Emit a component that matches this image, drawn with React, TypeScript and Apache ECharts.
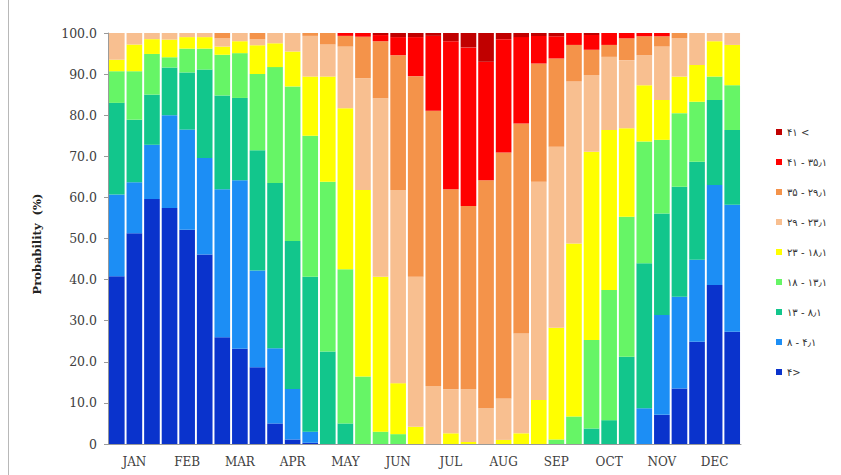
import React, { useEffect, useRef } from "react";
import * as echarts from "echarts";

const months = ["JAN", "FEB", "MAR", "APR", "MAY", "JUN", "JUL", "AUG", "SEP", "OCT", "NOV", "DEC"];
const dekads = ["1", "2", "3"];
const categories = months.flatMap((m) => dekads.map((d) => `${m}-${d}`));

const yTicks = [0, 10, 20, 30, 40, 50, 60, 70, 80, 90, 100];

const classNames = [
  "۴>",
  "۸ - ۴٫۱",
  "۱۳ - ۸٫۱",
  "۱۸ - ۱۳٫۱",
  "۲۳ - ۱۸٫۱",
  "۲۹ - ۲۳٫۱",
  "۳۵ - ۲۹٫۱",
  "۴۱ - ۳۵٫۱",
  "۴۱ <",
];
const classColors = ["#0A33CC", "#1C8EF5", "#12C68C", "#66F566", "#FFFF00", "#F8BF90", "#F4934A", "#FF0000", "#C00000"];

const lt4 = [40.8, 51.3, 59.6, 57.4, 52.1, 46.1, 26.0, 23.2, 18.7, 5.0, 1.1, 0.3, 0, 0, 0, 0, 0, 0, 0, 0, 0, 0, 0, 0, 0, 0, 0, 0, 0, 0, 0, 7.1, 13.5, 24.9, 38.7, 27.3];
const r4to8 = [19.9, 12.4, 13.2, 22.6, 24.4, 23.5, 36.0, 41.0, 23.5, 18.3, 12.3, 2.7, 0, 0, 0, 0, 0, 0, 0, 0, 0, 0, 0, 0, 0, 0, 0, 0, 0, 0, 8.7, 24.3, 22.3, 19.9, 24.3, 30.9];
const r8to13 = [22.3, 15.2, 12.2, 11.6, 13.9, 21.5, 22.8, 20.0, 29.3, 40.2, 36.0, 37.7, 22.5, 5.0, 0, 0, 0, 0, 0, 0, 0, 0, 0, 0, 0, 0, 0, 3.8, 5.8, 21.2, 35.3, 24.7, 26.8, 23.9, 20.7, 18.2];
const r13to18 = [7.7, 11.8, 9.9, 2.5, 5.8, 5.1, 9.9, 10.9, 18.5, 28.2, 37.6, 34.3, 41.3, 37.5, 16.4, 3.0, 2.4, 0, 0, 0, 0, 0, 0, 0, 0, 1.1, 6.7, 21.5, 31.7, 34.1, 29.6, 17.9, 17.9, 14.6, 5.7, 10.9];
const r18to23 = [2.8, 6.5, 3.6, 4.3, 2.8, 2.8, 2.0, 2.9, 7.0, 5.8, 8.5, 14.4, 25.6, 39.2, 45.4, 37.7, 12.4, 4.2, 0, 2.6, 0.5, 0, 1.0, 2.6, 10.7, 27.2, 42.1, 45.8, 38.9, 21.5, 13.7, 9.7, 8.9, 8.9, 8.6, 9.8];
const r23to29 = [6.5, 2.8, 1.5, 1.6, 1.0, 1.0, 2.0, 2.0, 1.5, 2.5, 4.5, 9.9, 7.8, 15.0, 27.2, 43.4, 47.0, 36.5, 14.1, 10.7, 12.8, 8.7, 10.1, 24.3, 53.1, 44.0, 39.4, 18.7, 17.8, 16.6, 7.3, 13.0, 9.3, 7.8, 2.0, 2.9];
const r29to35 = [0, 0, 0, 0, 0, 0, 1.3, 0, 1.5, 0, 0, 0.7, 2.8, 2.6, 10.1, 13.9, 32.8, 48.8, 67.0, 48.7, 44.6, 55.5, 59.8, 51.1, 28.8, 21.5, 8.9, 6.1, 2.9, 5.3, 4.6, 2.5, 1.3, 0, 0, 0];
const r35to41 = [0, 0, 0, 0, 0, 0, 0, 0, 0, 0, 0, 0, 0, 0.7, 0.9, 1.5, 4.4, 9.5, 18.2, 36.0, 38.6, 28.8, 27.6, 21.0, 6.7, 5.4, 2.9, 3.6, 2.9, 1.3, 0.8, 0.8, 0, 0, 0, 0];
const gt41 = [0, 0, 0, 0, 0, 0, 0, 0, 0, 0, 0, 0, 0, 0, 0, 0.5, 1.0, 1.0, 0.7, 2.0, 3.5, 7.0, 1.5, 1.0, 0.7, 0.8, 0, 0.5, 0, 0, 0, 0, 0, 0, 0, 0];

const classValues = [lt4, r4to8, r8to13, r13to18, r18to23, r23to29, r29to35, r35to41, gt41];

const axisFont = "'DejaVu Serif', 'Liberation Serif', serif";

export default function App() {
  const ref = useRef<HTMLDivElement>(null);

  useEffect(() => {
    if (!ref.current) return;
    const chart = echarts.init(ref.current, null, { renderer: "svg" });
    chart.setOption({
      animation: false,
      backgroundColor: "#ffffff",
      grid: { left: 108, right: 100, top: 33, bottom: 31 },
      legend: {
        orient: "vertical",
        left: 771,
        top: 122,
        itemWidth: 6,
        itemHeight: 6,
        itemGap: 20,
        icon: "rect",
        data: [...classNames].reverse(),
        textStyle: { fontSize: 10, lineHeight: 10, color: "#333", fontFamily: "'DejaVu Sans', sans-serif" },
      },
      xAxis: {
        type: "category",
        data: categories,
        axisLine: { show: true, lineStyle: { color: "#9a9a9a", width: 1 } },
        axisTick: { show: false },
        axisLabel: {
          interval: 0,
          margin: 12,
          fontFamily: axisFont,
          fontSize: 12,
          color: "#404040",
          formatter: (v: string, i: number) => (i % 3 === 1 ? v.split("-")[0] : ""),
        },
        splitLine: { show: false },
      },
      yAxis: {
        type: "value",
        min: yTicks[0],
        max: yTicks[yTicks.length - 1],
        interval: 10,
        axisLine: { show: true, lineStyle: { color: "#9a9a9a", width: 1 } },
        axisTick: { show: true, length: 4, lineStyle: { color: "#9a9a9a" } },
        axisLabel: {
          margin: 11,
          fontFamily: axisFont,
          fontSize: 12.5,
          color: "#404040",
          formatter: (v: number) => (v === 0 ? "0" : v.toFixed(1)),
        },
        splitLine: { show: false },
      },
      graphic: [
        {
          type: "text",
          x: 37,
          y: 244,
          rotation: Math.PI / 2,
          style: {
            text: "Probability  (%)",
            fontFamily: axisFont,
            fontWeight: "bold",
            fontSize: 11.5,
            fill: "#222",
            align: "center",
            verticalAlign: "middle",
          },
        },
        {
          type: "line",
          shape: { x1: 8.5, y1: 0, x2: 8.5, y2: 475 },
          style: { stroke: "#b8b8b8", lineWidth: 1 },
        },
      ],
      series: classNames.map((name, k) => ({
        name,
        type: "bar",
        stack: "total",
        barCategoryGap: "11%",
        itemStyle: { color: classColors[k] },
        emphasis: { disabled: true },
        data: classValues[k],
      })),
    });
    return () => chart.dispose();
  }, []);

  return <div ref={ref} style={{ position: "fixed", left: 0, top: 0, width: 841, height: 475 }} />;
}
